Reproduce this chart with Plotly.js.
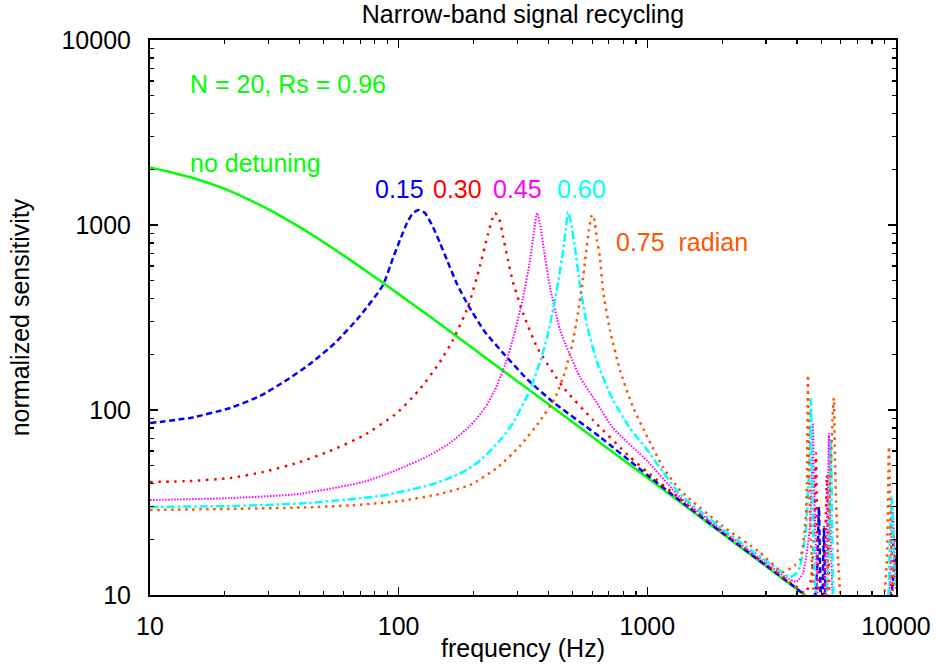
<!DOCTYPE html>
<html>
<head>
<meta charset="utf-8">
<script src="https://cdn.plot.ly/plotly-3.0.1.min.js"></script>
<style>
  html, body { margin: 0; padding: 0; background: #ffffff; }
  #chart { width: 936px; height: 668px; }
</style>
</head>
<body>
<div id="chart"></div>
<script>
// ---- data (frequency in Hz, normalized sensitivity) ----
var freqNoDetune = [10, 12, 15, 20, 25, 30, 40, 50, 60, 70, 85, 100, 120, 150, 200, 300, 500, 700, 1000, 1500, 2000, 3000, 4300, 5000, 10000];
var sensNoDetune = [2045, 1935, 1790, 1566, 1370, 1215, 974, 806, 685, 594, 495, 423, 355, 285, 214, 143, 86, 61.4, 43.1, 28.7, 21.5, 14.3, 10, 8.6, 4.3];

var freqD015 = [10, 14.5, 21, 27.7, 35.5, 44, 55.4, 69.9, 86.5, 94.9, 101.2, 108, 114.1, 120.6, 127.5, 137.4, 146.6, 156.4, 171.6, 190, 222.3, 267.6, 331, 417.3, 644.8, 1000, 1353, 2000, 3000, 4000, 4302, 4590, 4763, 4853, 4898, 4943, 4989, 5036, 5083, 5130, 5178, 5275, 6000, 8000, 9539, 9718, 9900, 9990];
var sensD015 = [85, 90.6, 102.5, 119, 145.3, 177.3, 230, 322, 474, 663, 829, 1025, 1161, 1205, 1161, 975, 799, 647, 480, 369.6, 264, 198, 145.3, 110.5, 71.5, 44.5, 32.4, 21.7, 14.45, 10.8, 9.9, 8.3, 10.6, 18.6, 29.9, 15.5, 8.3, 5.7, 12.1, 23.3, 12.1, 5.7, 4.5, 4, 9.4, 12, 16.5, 13.7];

var freqD030 = [10, 14.5, 21, 28.5, 39, 52.9, 71.9, 98.4, 121.8, 146.6, 165.3, 190, 212.3, 228.6, 237.2, 243.9, 253.1, 262.6, 275.1, 288.1, 316.1, 359.8, 457.8, 604.4, 851, 1000, 1353, 2000, 3000, 4000, 4302, 4548, 4676, 4719, 4763, 4807, 4853, 4943, 5036, 5130, 5178, 5226, 5275, 5324, 5373, 5473, 6000, 8000, 9451, 9627, 9808, 9990];
var sensD030 = [40.8, 41.3, 42.9, 46.2, 51.7, 60, 72.4, 96.3, 129.9, 181.7, 238.9, 360.6, 600, 894, 1064, 1161, 1091, 872, 647, 492, 334.5, 219, 133.2, 88.3, 55.7, 46.2, 33.0, 22.0, 14.6, 11.0, 10.2, 12, 22, 33, 58.6, 28, 14, 6, 5, 8.5, 15, 28, 44.5, 24, 12, 6, 4.5, 4, 9.4, 13.7, 21.1, 13.7];

var freqD045 = [10, 21, 40.1, 71.9, 98.4, 133.6, 160.8, 193.5, 222.3, 243.9, 267.6, 288.1, 316.1, 337.3, 349.9, 359.8, 370, 383.9, 406, 445.4, 535.8, 627.3, 727.4, 1000, 1353, 2000, 3000, 3600, 3980, 4224, 4506, 4590, 4633, 4676, 4763, 4853, 4989, 5130, 5226, 5324, 5373, 5423, 5525, 5680, 6000, 8000, 9365, 9539, 9718, 9900, 9990];
var sensD045 = [32.6, 33.4, 35.2, 40.8, 47.4, 57.1, 66.3, 81.9, 102.5, 128.3, 175.1, 242, 403, 639, 917, 1161, 1012, 733, 462, 270.7, 150.8, 109.1, 79.9, 53, 33.8, 22.4, 14.9, 12.5, 11.8, 13.1, 23.3, 45, 85.1, 40, 18, 9, 5, 7, 14, 35, 74.2, 32, 12, 6, 4.5, 4, 9.4, 17.5, 28.8, 13.7, 10.6];

var freqD060 = [10, 21, 40.1, 84.1, 133.6, 156.4, 181.4, 206.5, 232.9, 260.2, 288.1, 337.3, 370, 394.8, 417.3, 437, 457.8, 470.7, 479.4, 493, 511.6, 535.8, 571.6, 627.3, 727.4, 851, 1000, 1155, 1353, 2000, 3000, 3500, 3745, 4000, 4108, 4224, 4342, 4424, 4506, 4548, 4590, 4633, 4719, 4853, 5036, 5226, 5324, 5373, 5423, 5473, 5525, 5576, 5680, 6000, 8000, 9280, 9451, 9627, 9808, 9990];
var sensD060 = [29.9, 30.3, 31.2, 34.3, 39.3, 42.4, 46.2, 51.7, 60, 70.6, 85.1, 128.3, 181.7, 245.1, 347, 486, 715, 963, 1176, 1038, 751, 474, 288, 181.7, 113.3, 79.9, 60.8, 46.2, 35.1, 22.8, 15.3, 13.2, 12.5, 13.2, 14.2, 17, 22, 35, 60, 114.7, 50, 25, 12, 7, 5, 8, 14, 20, 40, 68.8, 30, 12, 7, 4.5, 4, 9.4, 19.8, 33.9, 15.5, 11.3];

var freqD075 = [10, 21, 40.1, 63.7, 101.2, 146.6, 193.5, 248.5, 307.4, 370, 425.1, 466.5, 497.6, 526.1, 545.8, 566.4, 582.4, 598.8, 610, 627.3, 644.8, 663, 707.4, 776, 875, 1000, 1155, 1353, 2000, 2836, 3509, 3923, 4108, 4224, 4302, 4342, 4382, 4424, 4465, 4506, 4548, 4633, 4807, 5083, 5275, 5324, 5423, 5576, 5628, 5680, 5787, 5850, 5948, 6115, 6288, 8000, 8942, 9195, 9365, 9539, 9718, 9900, 9990];
var sensD075 = [28.8, 29.2, 29.7, 30.5, 32.2, 35.2, 39.3, 48.6, 63.9, 87.2, 116.1, 160.5, 221.8, 334.5, 462, 705, 940, 1133, 1091, 829, 671, 445, 270.7, 164.5, 103.8, 71.5, 49.2, 36.9, 23.7, 17, 13.3, 14.5, 15.5, 18.5, 23, 27, 40, 154.6, 55, 30, 20, 12, 6, 5, 9, 15.5, 35.5, 100, 116.1, 53.5, 23.3, 15.5, 10.6, 7, 4.5, 4, 9.4, 15.5, 63.4, 19.8, 10.6, 13.7, 16.5];

var seriesNames = ['no detuning', '0.15', '0.30', '0.45', '0.60', '0.75'];
var seriesColors = ['#00ff00', '#0000ff', '#ff0000', '#ff00ff', '#00ffff', '#ff5500'];

var xTickVals = [10, 100, 1000, 10000];
var xTickText = ['10', '100', '1000', '10000'];
var yTickVals = [10, 100, 1000, 10000];
var yTickText = ['10', '100', '1000', '10000'];

var chartTitle = 'Narrow-band signal recycling';
var xTitle = 'frequency (Hz)';
var yTitle = 'normalized sensitivity';
var noteParams = 'N = 20, Rs = 0.96';
var noteNoDetune = 'no detuning';
var noteLabels = ['0.15', '0.30', '0.45', '0.60', '0.75\u00a0 radian'];

// ---- minor tick positions (2..9 within each decade) ----
var minorVals = [];
for (var d = 10; d < 10000; d *= 10) {
  for (var k = 2; k <= 9; k++) minorVals.push(k * d);
}

var FONT = 'Liberation Sans, Arial, Helvetica, sans-serif';

var styles = [
  {width: 2.5, dash: 'solid'},
  {width: 2.5, dash: '6px,3.5px'},
  {width: 2.5, dash: '2.5px,5.5px'},
  {width: 2, dash: '1.5px,1.5px'},
  {width: 2.5, dash: '8px,3px,2.5px,3px'},
  {width: 2.5, dash: '2.5px,4.5px'}
];
var xs = [freqNoDetune, freqD015, freqD030, freqD045, freqD060, freqD075];
var ys = [sensNoDetune, sensD015, sensD030, sensD045, sensD060, sensD075];

var traces = [];
for (var i = 0; i < xs.length; i++) {
  traces.push({
    type: 'scatter', mode: 'lines', name: seriesNames[i],
    x: xs[i], y: ys[i],
    line: {color: seriesColors[i], width: styles[i].width, dash: styles[i].dash, shape: 'spline', smoothing: 0.5},
    hoverinfo: 'skip'
  });
}

function axisBase() {
  return {
    type: 'log', range: [1, 4],
    showline: true, linecolor: '#000', linewidth: 2, mirror: 'ticks',
    ticks: 'inside', ticklen: 8, tickwidth: 1.5, tickcolor: '#000',
    tickmode: 'array',
    tickfont: {family: FONT, size: 25, color: '#000'},
    showgrid: false, zeroline: false,
    minor: {ticks: 'inside', ticklen: 4, tickwidth: 1.2, tickcolor: '#000', tickmode: 'array', tickvals: minorVals, showgrid: false},
    automargin: false
  };
}
var xaxis = axisBase();
xaxis.tickvals = xTickVals; xaxis.ticktext = xTickText;
xaxis.ticklabelstandoff = 8;
xaxis.title = {text: xTitle, font: {family: FONT, size: 25, color: '#000'}, standoff: 0};
var yaxis = axisBase();
yaxis.tickvals = yTickVals; yaxis.ticktext = yTickText;
yaxis.ticklabelstandoff = 12;
yaxis.title = {text: yTitle, font: {family: FONT, size: 25, color: '#000'}, standoff: 25};

function note(text, color, px, py) {
  return {
    text: text, xref: 'paper', yref: 'paper',
    x: (px - 150) / 746, y: (595 - py) / 555,
    xanchor: 'left', yanchor: 'middle', showarrow: false,
    font: {family: FONT, size: 25, color: color}
  };
}

var annotations = [
  note(noteParams, seriesColors[0], 188, 84),
  note(noteNoDetune, seriesColors[0], 188, 163),
  note(noteLabels[0], seriesColors[1], 373, 189),
  note(noteLabels[1], seriesColors[2], 431, 189),
  note(noteLabels[2], seriesColors[3], 491, 189),
  note(noteLabels[3], seriesColors[4], 555, 189),
  note(noteLabels[4], seriesColors[5], 614, 242)
];

var layout = {
  width: 936, height: 668,
  margin: {l: 150, r: 40, t: 40, b: 73, pad: 0},
  paper_bgcolor: '#fff', plot_bgcolor: '#fff',
  showlegend: false,
  font: {family: FONT, size: 25, color: '#000'},
  title: {text: chartTitle, font: {family: FONT, size: 25, color: '#000'}, xref: 'paper', x: 0.5, xanchor: 'center', yref: 'container', y: 1 - 14 / 668, yanchor: 'middle'},
  xaxis: xaxis, yaxis: yaxis,
  annotations: annotations
};

Plotly.newPlot('chart', traces, layout, {staticPlot: true, displayModeBar: false});
</script>
</body>
</html>
